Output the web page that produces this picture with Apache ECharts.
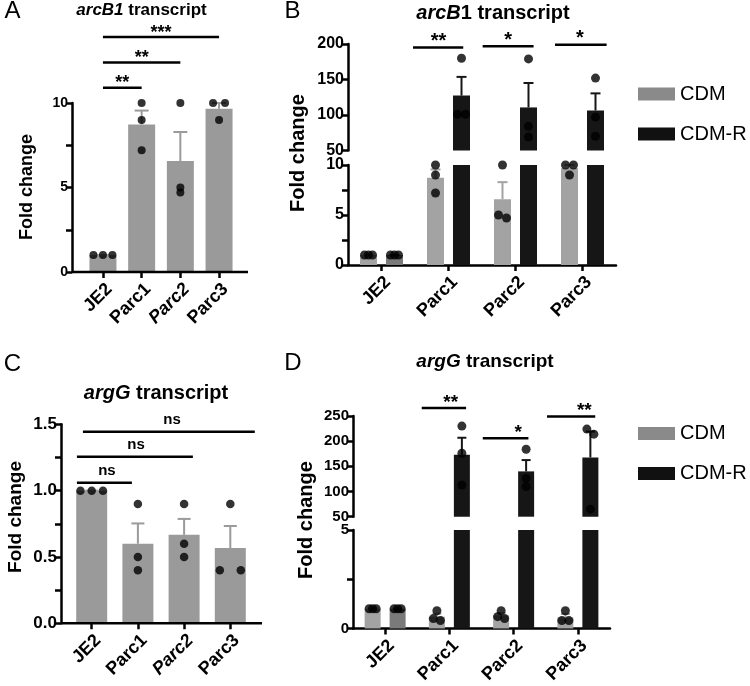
<!DOCTYPE html>
<html><head><meta charset="utf-8">
<script src="https://cdn.jsdelivr.net/npm/echarts@6/dist/echarts.min.js"></script>
<style>html,body{margin:0;padding:0;background:#fff}#c{width:750px;height:686px}</style>
</head><body><div id="c"></div>
<script>
const FONT = "'Liberation Sans', Arial, Helvetica, sans-serif";

// ---------------- data ----------------
const categories = ['JE2', 'Parc1', 'Parc2', 'Parc3'];
// individual replicate values (fold change)
const arcB1_CDM  = [[1, 1, 1], [10, 9.0, 7.2], [10, 5.0, 4.7], [10, 10, 9.0]];
const arcB1_CDMR = [[1, 1, 1], [180, 101, 101], [179, 84, 69], [152, 97, 70]];
const argG_CDM   = [[1, 1, 1], [0.9, 0.5, 0.4], [0.9, 0.6, 0.5], [0.9, 0.4, 0.4]];
const argG_CDMR  = [[1, 1, 1], [230, 176, 113], [184, 126, 110], [224, 214, 65]];
// significance annotations: category span (fractional index), level (data units), label, label position
const sigA = [
  {from: 0, to: 1, level: 10.9, label: '**', at: 0.5},
  {from: 0, to: 2, level: 12.4, label: '**', at: 1.0},
  {from: 0, to: 3, level: 13.9, label: '***', at: 1.5}
];
const sigB = [
  {from: 0.47, to: 1.22, level: 195, label: '**', at: 0.85},
  {from: 1.51, to: 2.27, level: 197, label: '*', at: 1.89},
  {from: 2.59, to: 3.36, level: 199, label: '*', at: 2.96}
];
const sigC = [
  {from: -0.32, to: 0.87, level: 1.06, label: 'ns', at: 0.33},
  {from: -0.32, to: 2.19, level: 1.255, label: 'ns', at: 0.96},
  {from: -0.19, to: 3.53, level: 1.444, label: 'ns', at: 1.74}
];
const sigD = [
  {from: 0.57, to: 1.26, level: 266, label: '**', at: 1.02},
  {from: 1.52, to: 2.23, level: 206, label: '*', at: 2.07},
  {from: 2.52, to: 3.27, level: 249, label: '**', at: 3.10}
];
const legendNames = ['CDM', 'CDM-R'];

// ---------------- helpers ----------------
function mean(a) { return a.reduce((s, v) => s + v, 0) / a.length; }
function sem(a) {
  const m = mean(a);
  const v = a.reduce((s, x) => s + (x - m) * (x - m), 0) / (a.length - 1);
  return Math.sqrt(v / a.length);
}
function yPix(seg, v) { return seg.top + seg.height * (1 - (v - seg.min) / (seg.max - seg.min)); }
function segIndexFor(p, v) {
  for (let s = p.segments.length - 1; s >= 0; s--) {
    const g = p.segments[s];
    if (v >= g.min - 1e-9 && v <= g.max + 1e-9) return s;
  }
  return 0;
}
function xOf(p, f) { return p.left + (f + 0.5) * p.width / categories.length; }

const opt = {
  animation: false, backgroundColor: '#fff',
  textStyle: {fontFamily: FONT},
  grid: [], xAxis: [], yAxis: [], series: [], graphic: [], legend: []
};

function makeEB(off, cap, color) {
  return function (params, api) {
    const i = api.value(0), m = api.value(1), t = api.value(2);
    const p0 = api.coord([i, m]), p1 = api.coord([i, t]);
    const x = p0[0] + off;
    return {type: 'group', children: [
      {type: 'line', shape: {x1: x, y1: p0[1], x2: x, y2: p1[1]}, style: {stroke: color, lineWidth: 2}},
      {type: 'line', shape: {x1: x - cap / 2, y1: p1[1], x2: x + cap / 2, y2: p1[1]}, style: {stroke: color, lineWidth: 2}}
    ]};
  };
}

function buildPanel(p) {
  const nG = p.groups.length;
  const offs = p.groups.map((g, k) => nG === 1 ? 0 : (k - (nG - 1) / 2) * (p.barWidth + p.gapPx));
  // dot placement (spread overlapping replicates horizontally)
  const dotItems = p.groups.map(() => p.segments.map(() => []));
  p.groups.forEach((g, k) => {
    g.data.forEach((vals, i) => {
      const pts = vals.map(v => { const s = segIndexFor(p, v); return {v, s, py: yPix(p.segments[s], v)}; });
      pts.sort((a, b) => a.py - b.py);
      const rows = [];
      pts.forEach(pt => {
        const r = rows[rows.length - 1];
        if (r && pt.py - r[0].py < p.thr) r.push(pt); else rows.push([pt]);
      });
      rows.forEach(r => {
        const n = r.length;
        const sp = n > 1 ? Math.min(p.spacingMax, (p.barWidth - p.dot) / (n - 1)) : 0;
        r.forEach((pt, j) => {
          dotItems[k][pt.s].push({value: [i, pt.v], symbolOffset: [offs[k] + (j - (n - 1) / 2) * sp, 0]});
        });
      });
    });
  });

  p.segments.forEach((s, si) => {
    const gi = opt.grid.length;
    const isBottom = si === p.segments.length - 1;
    opt.grid.push({left: p.left, top: s.top, width: p.width, height: s.height});
    opt.xAxis.push({
      type: 'category', gridIndex: gi, data: categories, show: isBottom,
      axisLine: {show: !p.baseline, onZero: false, lineStyle: {color: '#000', width: 2.5}},
      axisTick: {show: true, alignWithLabel: true, length: 6, lineStyle: {color: '#000', width: 2.5}},
      axisLabel: {rotate: 45, fontSize: p.xFont, fontWeight: 'bold', color: '#000', margin: 8, fontFamily: FONT,
        align: 'right', verticalAlign: 'top',
        formatter: v => (p.italicCat && p.italicCat.indexOf(v) >= 0) ? '{it|' + v + '}' : v,
        rich: {it: {fontStyle: 'italic', fontWeight: 'bold', fontSize: p.xFont, fontFamily: FONT, color: '#000'}}},
      splitLine: {show: false}
    });
    opt.yAxis.push({
      type: 'value', gridIndex: gi, min: s.min, max: s.max, interval: s.interval, offset: p.yOffset || 0,
      axisLine: {show: true, onZero: false, lineStyle: {color: '#000', width: 2.5}},
      axisTick: {show: true, length: 6, lineStyle: {color: '#000', width: 2.5}},
      minorTick: {show: !!s.minor, splitNumber: 2, length: 6, lineStyle: {color: '#000', width: 2.5}},
      splitLine: {show: false}, minorSplitLine: {show: false},
      axisLabel: {fontSize: p.yFont, fontWeight: 'bold', color: '#000', margin: 4, fontFamily: FONT,
        formatter: s.fmt || (v => String(v))}
    });
    p.groups.forEach((g, k) => {
      opt.series.push({
        type: 'bar', name: g.name, xAxisIndex: gi, yAxisIndex: gi,
        data: g.data.map(mean), barWidth: p.barWidth,
        barGap: nG > 1 ? (p.gapPx / p.barWidth * 100) + '%' : '30%',
        itemStyle: {color: (prm) => (g.firstColor && prm.dataIndex === 0) ? g.firstColor : g.color},
        clip: true, silent: true, z: 2
      });
    });
    p.groups.forEach((g, k) => {
      const eb = g.data.map((vals, i) => [i, mean(vals), mean(vals) + sem(vals)])
        .filter(d => segIndexFor(p, d[1]) === si);
      opt.series.push({type: 'custom', name: g.name + ' SEM', xAxisIndex: gi, yAxisIndex: gi, data: eb,
        renderItem: makeEB(offs[k], p.cap, g.color), z: 3, silent: true, clip: false});
      opt.series.push({type: 'scatter', name: g.name + ' replicates', xAxisIndex: gi, yAxisIndex: gi,
        data: dotItems[k][si], symbol: 'circle', symbolSize: p.dot,
        itemStyle: {color: '#000'}, z: 4, silent: true, clip: false});
    });
  });

  const bottom = p.segments[p.segments.length - 1];
  if (p.baseline) {
    const yb = bottom.top + bottom.height;
    opt.graphic.push({type: 'line', shape: {x1: p.yAxisX, y1: yb, x2: p.axisEnd, y2: yb},
      style: {stroke: '#000', lineWidth: 2.5}, z: 10});
  }
  // title
  opt.graphic.push({type: 'text', x: p.title.x, y: p.title.y, z: 10,
    style: {text: p.title.text, fontSize: p.title.size, fontWeight: 'bold', fontFamily: FONT, fill: '#000',
      align: 'center', verticalAlign: 'middle',
      rich: {i: {fontStyle: 'italic', fontWeight: 'bold', fontSize: p.title.size, fontFamily: FONT, fill: '#000'},
             n: {fontWeight: 'bold', fontSize: p.title.size, fontFamily: FONT, fill: '#000'}}}});
  // panel letter
  opt.graphic.push({type: 'text', x: p.letter.x, y: p.letter.y, z: 10,
    style: {text: p.letter.text, fontSize: 24, fontFamily: FONT, fill: '#000', align: 'center', verticalAlign: 'middle'}});
  // y axis title
  opt.graphic.push({type: 'text', x: p.yName.x, y: p.yName.y, rotation: Math.PI / 2, z: 10,
    style: {text: 'Fold change', fontSize: p.yName.size, fontWeight: 'bold', fontFamily: FONT, fill: '#000',
      align: 'center', verticalAlign: 'middle'}});
  // significance
  const top = p.segments[0];
  p.sig.forEach(a => {
    const y = yPix(top, a.level);
    opt.graphic.push({type: 'line', shape: {x1: xOf(p, a.from), y1: y, x2: xOf(p, a.to), y2: y},
      style: {stroke: '#000', lineWidth: 2.5}, z: 10});
    const star = a.label.indexOf('*') >= 0;
    const cy = y - p.sigGap + (star ? 0.25 * p.sigSize : 0);
    opt.graphic.push({type: 'text', x: xOf(p, a.at), y: cy, z: 10,
      style: {text: a.label, fontSize: p.sigSize, fontWeight: 'bold', fontFamily: FONT, fill: '#000',
        align: 'center', verticalAlign: 'middle'}});
  });
}

const GREY = '#9a9a9a', LGREY = '#a3a3a3', BLACK = '#161616', MIDGREY = '#7a7a7a';

buildPanel({
  left: 83.6, width: 154.8, yAxisX: 72, axisEnd: 248, yOffset: 11.6, baseline: true,
  segments: [{top: 103, height: 169, min: 0, max: 10, interval: 5, minor: true}],
  groups: [{name: 'CDM', data: arcB1_CDM, color: GREY}],
  barWidth: 27, gapPx: 0, dot: 8, spacingMax: 12, thr: 4, yFont: 14, xFont: 18, cap: 14,
  italicCat: ['Parc2'],
  title: {text: '{i|arcB1} transcript', x: 141.5, y: 10, size: 17},
  letter: {text: 'A', x: 12.5, y: 11}, yName: {x: 27, y: 187, size: 18},
  sig: sigA, sigGap: 9, sigSize: 18
});
buildPanel({
  left: 348, width: 268,
  segments: [{top: 44, height: 106.5, min: 50, max: 200, interval: 50},
             {top: 165, height: 100, min: 0, max: 10, interval: 5, minor: true}],
  groups: [{name: 'CDM', data: arcB1_CDM, color: LGREY},
           {name: 'CDM-R', data: arcB1_CDMR, color: BLACK, firstColor: MIDGREY}],
  barWidth: 17, gapPx: 9, dot: 9, spacingMax: 10, thr: 5, yFont: 16, xFont: 18, cap: 10,
  title: {text: '{i|arcB}{n|1} transcript', x: 493, y: 13, size: 20},
  letter: {text: 'B', x: 292.5, y: 11}, yName: {x: 298, y: 153, size: 20},
  sig: sigB, sigGap: 11, sigSize: 20
});
buildPanel({
  left: 68.6, width: 184.8, yAxisX: 61, axisEnd: 262, yOffset: 7.6, baseline: true,
  segments: [{top: 424.3, height: 199, min: 0, max: 1.5, interval: 0.5, minor: true, fmt: v => v.toFixed(1)}],
  groups: [{name: 'CDM', data: argG_CDM, color: GREY}],
  barWidth: 31, gapPx: 0, dot: 8.5, spacingMax: 21, thr: 5, yFont: 17, xFont: 18, cap: 13,
  italicCat: ['Parc2'],
  title: {text: '{i|argG} transcript', x: 156, y: 393, size: 20},
  letter: {text: 'C', x: 12.5, y: 364}, yName: {x: 16, y: 517, size: 19},
  sig: sigC, sigGap: 12, sigSize: 15
});
buildPanel({
  left: 353, width: 257,
  segments: [{top: 416, height: 100.7, min: 50, max: 250, interval: 50},
             {top: 530, height: 99, min: 0, max: 5, interval: 5, minor: true}],
  groups: [{name: 'CDM', data: argG_CDM, color: LGREY},
           {name: 'CDM-R', data: argG_CDMR, color: BLACK, firstColor: MIDGREY}],
  barWidth: 16, gapPx: 9, dot: 9, spacingMax: 10, thr: 5.5, yFont: 15, xFont: 18, cap: 9,
  title: {text: '{i|argG} transcript', x: 485, y: 362, size: 19},
  letter: {text: 'D', x: 293, y: 363}, yName: {x: 306, y: 520, size: 20},
  sig: sigD, sigGap: 10, sigSize: 19
});

const legendColors = {'CDM': '#8a8a8a', 'CDM-R': '#111111'};
[84, 423.5].forEach(top => {
  opt.legend.push({
    orient: 'vertical', left: 638, top: top, itemWidth: 37, itemHeight: 13, itemGap: 20, icon: 'rect',
    selectedMode: false, padding: 0,
    textStyle: {fontSize: 20, lineHeight: 20, color: '#000', fontFamily: FONT},
    data: legendNames.map(n => ({name: n, itemStyle: {color: legendColors[n]}}))
  });
});

const chart = echarts.init(document.getElementById('c'), null, {renderer: 'canvas', width: 750, height: 686});
chart.setOption(opt);
</script>
</body></html>
